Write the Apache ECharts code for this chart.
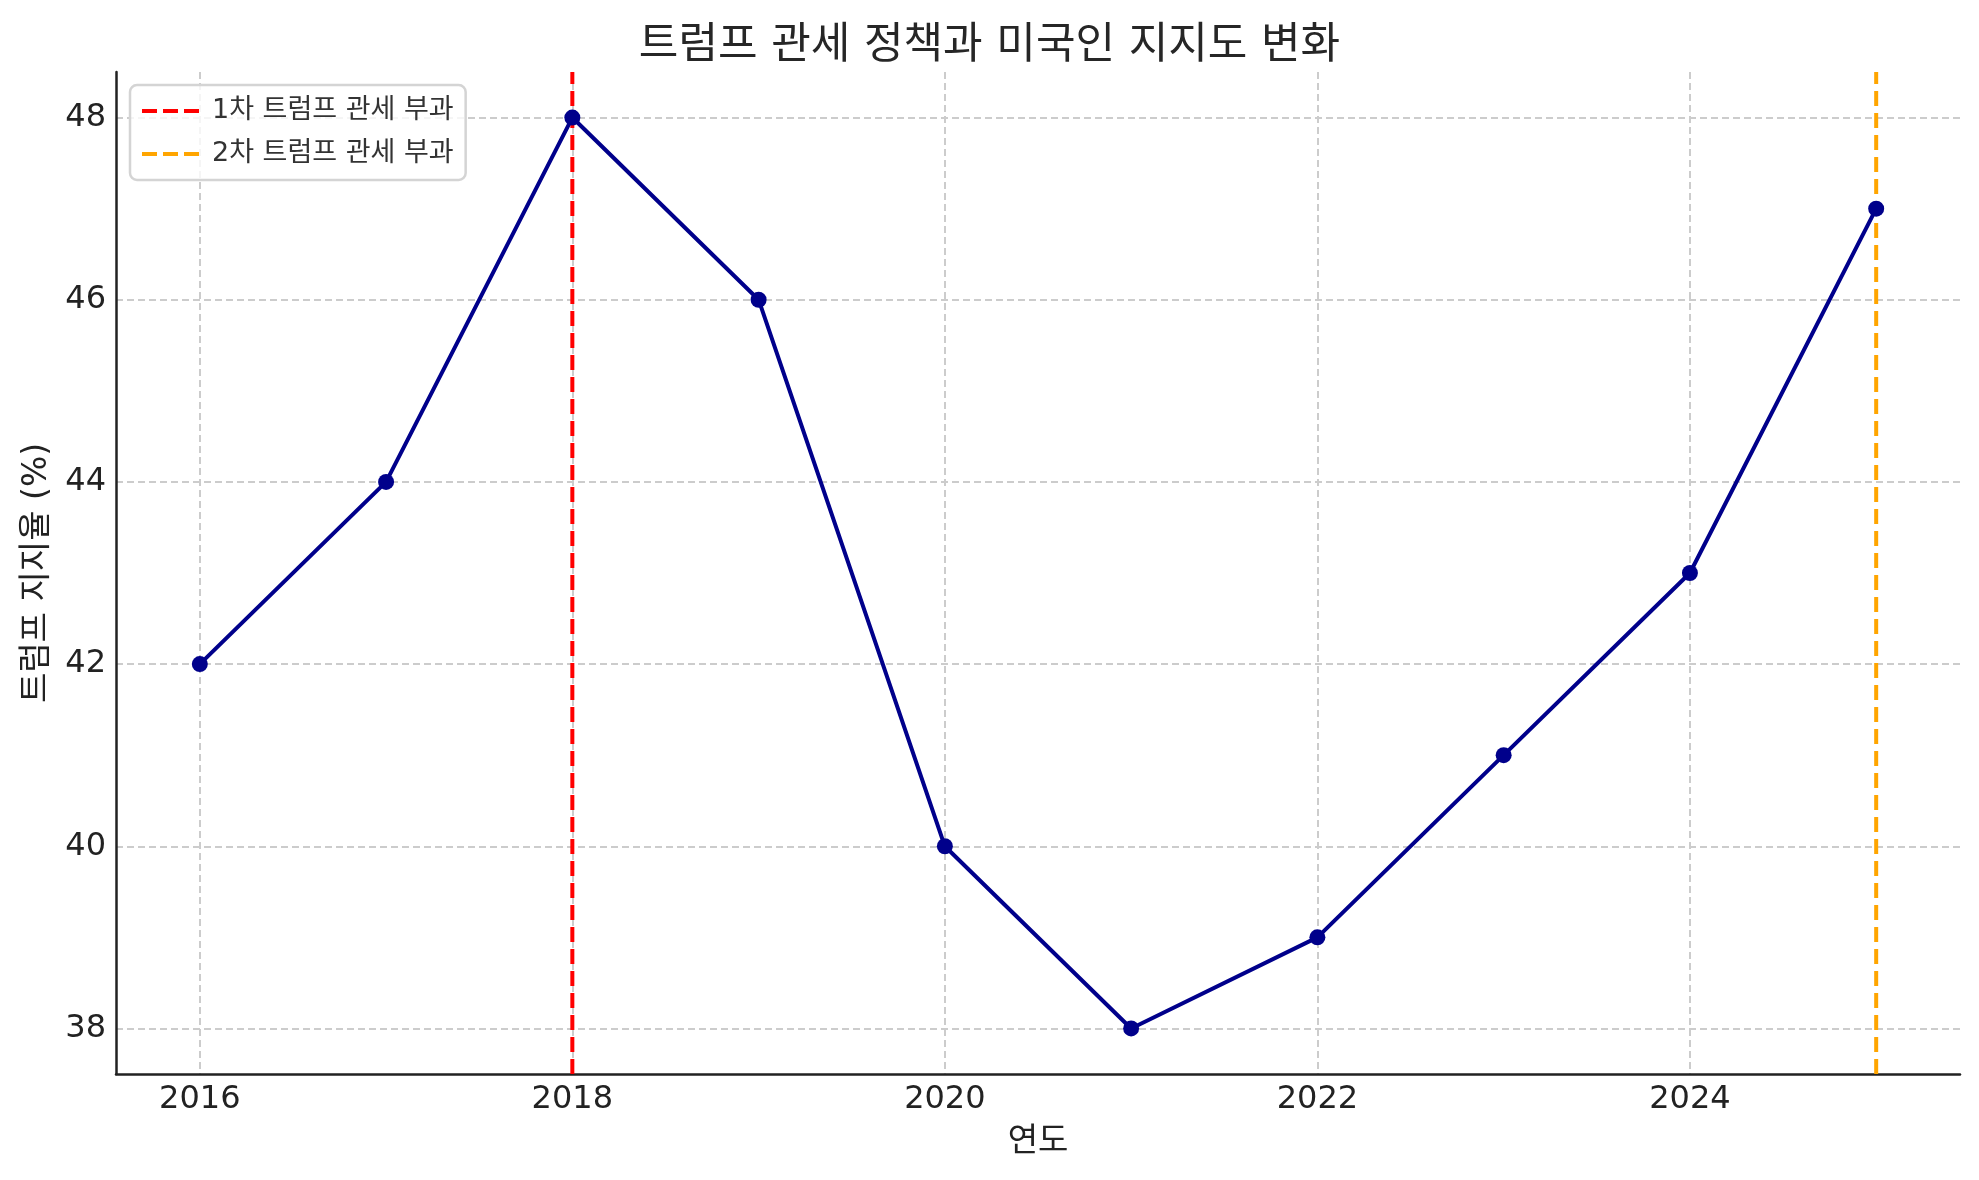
<!DOCTYPE html>
<html>
<head>
<meta charset="utf-8">
<script src="https://cdn.jsdelivr.net/npm/echarts@6/dist/echarts.min.js"></script>
<style>html,body{margin:0;padding:0;background:#fff}#c{width:1979px;height:1180px}</style>
</head>
<body>
<div id="c"></div>
<script>
const years = [2016, 2017, 2018, 2019, 2020, 2021, 2022, 2023, 2024, 2025];
const approval = [42, 44, 48, 46, 40, 38, 39, 41, 43, 47];
const xTicks = [2016, 2018, 2020, 2022, 2024];
const yTicks = [38, 40, 42, 44, 46, 48];
const eventYears = [2018, 2025];
const eventNames = ['1차 트럼프 관세 부과', '2차 트럼프 관세 부과'];
const eventColors = ['#ff0000', '#ffa500'];
const titleText = '트럼프 관세 정책과 미국인 지지도 변화';
const xName = '연도';
const yName = '트럼프 지지율 (%)';
const xMin = 2015.55, xMax = 2025.45, yMin = 37.5, yMax = 48.5;

const FONT = '"DejaVu Sans", "Noto Sans CJK KR", sans-serif';
const chart = echarts.init(document.getElementById('c'), null, {renderer: 'canvas'});

const series = [];
eventYears.forEach((y, i) => {
  series.push({
    name: eventNames[i],
    type: 'line',
    data: [[y, yMin], [y, yMax]],
    symbol: 'none',
    lineStyle: {color: eventColors[i], width: 4, type: [15, 7]},
    itemStyle: {color: eventColors[i]},
    z: 3,
    silent: true
  });
});
series.push({
  name: 'approval',
  type: 'line',
  data: years.map((y, i) => [y, approval[i]]),
  symbol: 'circle',
  symbolSize: 16,
  lineStyle: {color: '#00008b', width: 4},
  itemStyle: {color: '#00008b'},
  z: 4
});

const dashIcon = 'path://M0,0H15V4H0Z M21,0H36V4H21Z M42,0H57V4H42Z';

chart.setOption({
  animation: false,
  backgroundColor: '#fff',
  title: {
    text: titleText,
    left: 'center',
    top: 25,
    padding: [0, 0, 0, 98],
    textStyle: {fontFamily: FONT, fontSize: 43, fontWeight: 'normal', color: '#262626'}
  },
  legend: {
    data: eventNames.map(n => ({name: n, icon: dashIcon})),
    orient: 'vertical',
    left: 130,
    top: 85,
    itemWidth: 57,
    itemHeight: 4,
    itemGap: 15,
    padding: [12, 12, 12, 12],
    borderColor: '#d4d4d4',
    borderWidth: 2.5,
    borderRadius: 7,
    backgroundColor: 'rgba(255,255,255,0.8)',
    textStyle: {fontFamily: FONT, fontSize: 27, color: '#333', padding: [0, 0, 0, 8], lineHeight: 28}
  },
  grid: {left: 116, right: 19, top: 72, bottom: 106, containLabel: false},
  xAxis: {
    type: 'value',
    min: xMin,
    max: xMax,
    name: xName,
    nameLocation: 'middle',
    nameGap: 52,
    nameTextStyle: {fontFamily: FONT, fontSize: 33, color: '#222'},
    axisLine: {show: true, onZero: false, lineStyle: {color: '#222', width: 2.5}},
    axisTick: {show: false, customValues: xTicks},
    axisLabel: {customValues: xTicks, formatter: v => String(v), fontFamily: FONT, fontSize: 32, color: '#222', margin: 10},
    splitLine: {show: true, lineStyle: {color: '#cccccc', width: 2, type: [7, 4]}}
  },
  yAxis: {
    type: 'value',
    min: yMin,
    max: yMax,
    name: yName,
    nameLocation: 'middle',
    nameGap: 62,
    nameRotate: 90,
    nameTextStyle: {fontFamily: FONT, fontSize: 33, color: '#222'},
    axisLine: {show: true, onZero: false, lineStyle: {color: '#222', width: 2.5}},
    axisTick: {show: false, customValues: yTicks},
    axisLabel: {customValues: yTicks, formatter: v => String(v), fontFamily: FONT, fontSize: 32, color: '#222', margin: 10},
    splitLine: {show: true, lineStyle: {color: '#cccccc', width: 2, type: [7, 4]}}
  },
  series: series
});
</script>
</body>
</html>
